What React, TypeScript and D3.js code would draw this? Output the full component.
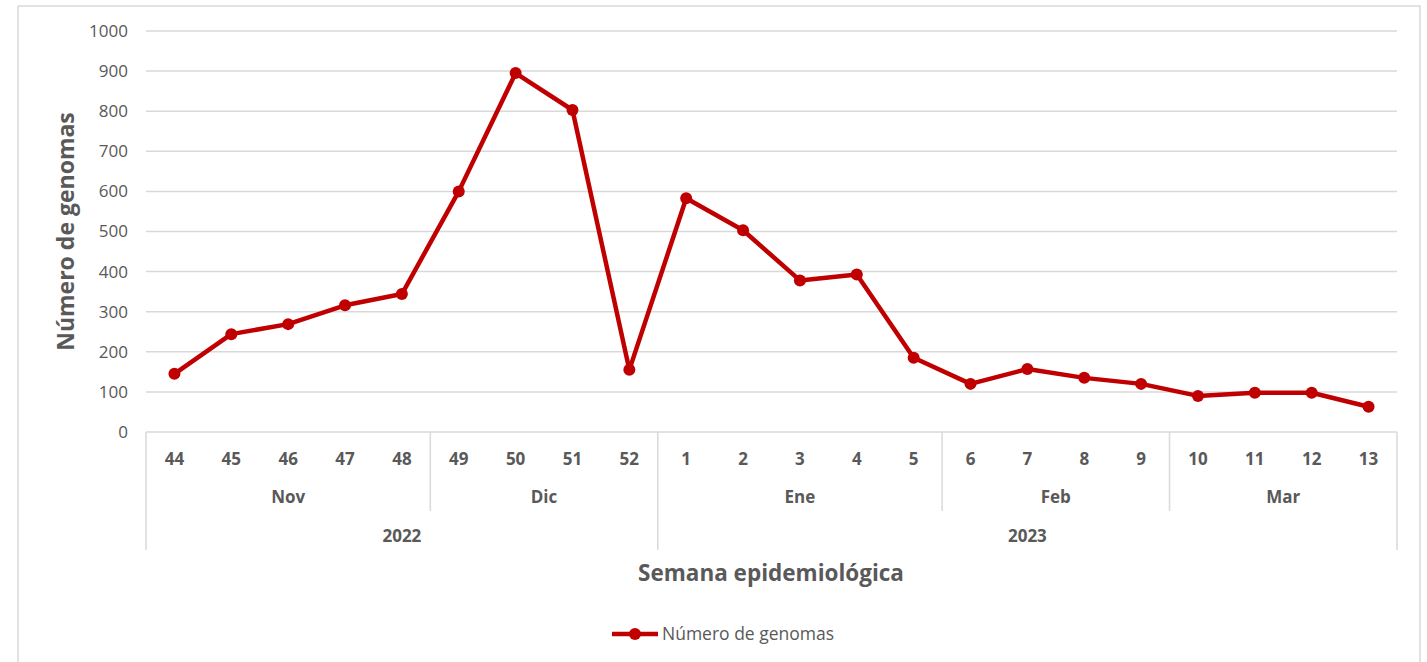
import * as d3 from 'd3';

const weeks = ['44', '45', '46', '47', '48', '49', '50', '51', '52', '1', '2', '3', '4', '5', '6', '7', '8', '9', '10', '11', '12', '13'];
const genomes = [145, 244, 269, 316, 344, 600, 895, 803, 155, 583, 503, 378, 393, 185, 120, 157, 135, 120, 90, 98, 98, 63];
const months = ['Nov', 'Dic', 'Ene', 'Feb', 'Mar'];
const monthSizes = [5, 4, 5, 4, 4];
const years = ['2022', '2023'];
const yearSizes = [9, 13];
const yTicks = [0, 100, 200, 300, 400, 500, 600, 700, 800, 900, 1000];

const W = 1427;
const H = 662;
const plot = { left: 146, right: 1397, top: 31, bottom: 432 };
const red = '#C00000';
const grey = '#595959';
const font = "'Open Sans', 'Liberation Sans', sans-serif";

// cumulative start index of each group
const groups = (sizes: number[]) => {
  let acc = 0;
  return sizes.map((s) => {
    const g = { start: acc, end: acc + s };
    acc += s;
    return g;
  });
};

export default function App() {
  const x = d3.scaleBand().domain(weeks).range([plot.left, plot.right]);
  const y = d3.scaleLinear().domain([0, 1000]).range([plot.bottom, plot.top]);
  const cx = (w: string) => (x(w) as number) + x.bandwidth() / 2;
  const edge = (i: number) => plot.left + i * x.bandwidth();

  const line = d3
    .line<number>()
    .x((_, i) => cx(weeks[i]))
    .y((d) => y(d));

  const monthGroups = groups(monthSizes);
  const yearGroups = groups(yearSizes);
  const yearEdges = new Set(yearGroups.map((g) => g.start).concat([weeks.length]));

  return (
    <svg width={W} height={H} style={{ position: 'absolute', left: 0, top: 0, background: '#fff' }}>
      <rect x={18} y={6} width={1402} height={670} fill="#fff" stroke="#d9d9d9" strokeWidth={1.5} />
      {yTicks.map((t) => (
        <g key={t}>
          {t > 0 && (
            <line x1={plot.left} x2={plot.right} y1={y(t)} y2={y(t)} stroke="#d9d9d9" strokeWidth={1.5} />
          )}
          <text x={128} y={y(t)} dy="0.35em" textAnchor="end" fontFamily={font} fontSize={17} fill={grey}>
            {t}
          </text>
        </g>
      ))}
      <line x1={plot.left} x2={plot.right} y1={plot.bottom} y2={plot.bottom} stroke="#d9d9d9" strokeWidth={1.5} />
      {monthGroups.map((g) => g.start)
        .concat([weeks.length])
        .map((i) => (
          <line
            key={'sep' + i}
            x1={edge(i)}
            x2={edge(i)}
            y1={plot.bottom}
            y2={yearEdges.has(i) ? 550 : 511}
            stroke="#d9d9d9"
            strokeWidth={1.5}
          />
        ))}
      {weeks.map((w) => (
        <text key={'w' + w} x={cx(w)} y={459} dy="0.35em" textAnchor="middle" fontFamily={font} fontSize={17} fontWeight="bold" fill={grey}>
          {w}
        </text>
      ))}
      {months.map((m, i) => (
        <text
          key={m}
          x={(edge(monthGroups[i].start) + edge(monthGroups[i].end)) / 2}
          y={497}
          dy="0.35em"
          textAnchor="middle"
          fontFamily={font}
          fontSize={17}
          fontWeight="bold"
          fill={grey}
        >
          {m}
        </text>
      ))}
      {years.map((yr, i) => (
        <text
          key={yr}
          x={(edge(yearGroups[i].start) + edge(yearGroups[i].end)) / 2}
          y={536}
          dy="0.35em"
          textAnchor="middle"
          fontFamily={font}
          fontSize={17}
          fontWeight="bold"
          fill={grey}
        >
          {yr}
        </text>
      ))}
      <text
        transform={`translate(66, ${(plot.top + plot.bottom) / 2}) rotate(-90)`}
        textAnchor="middle"
        dy="0.35em"
        fontFamily={font}
        fontSize={23}
        fontWeight="bold"
        fill={grey}
      >
        Número de genomas
      </text>
      <text x={771} y={573} dy="0.35em" textAnchor="middle" fontFamily={font} fontSize={22.5} fontWeight="bold" fill={grey}>
        Semana epidemiológica
      </text>
      <path d={line(genomes) || ''} fill="none" stroke={red} strokeWidth={4.5} strokeLinejoin="round" />
      {genomes.map((v, i) => (
        <circle key={'p' + i} cx={cx(weeks[i])} cy={y(v)} r={6} fill={red} />
      ))}
      <line x1={612} x2={658} y1={634} y2={634} stroke={red} strokeWidth={4.5} />
      <circle cx={635} cy={634} r={6} fill={red} />
      <text x={662} y={634} dy="0.35em" fontFamily={font} fontSize={17.5} fill={grey}>
        Número de genomas
      </text>
    </svg>
  );
}
